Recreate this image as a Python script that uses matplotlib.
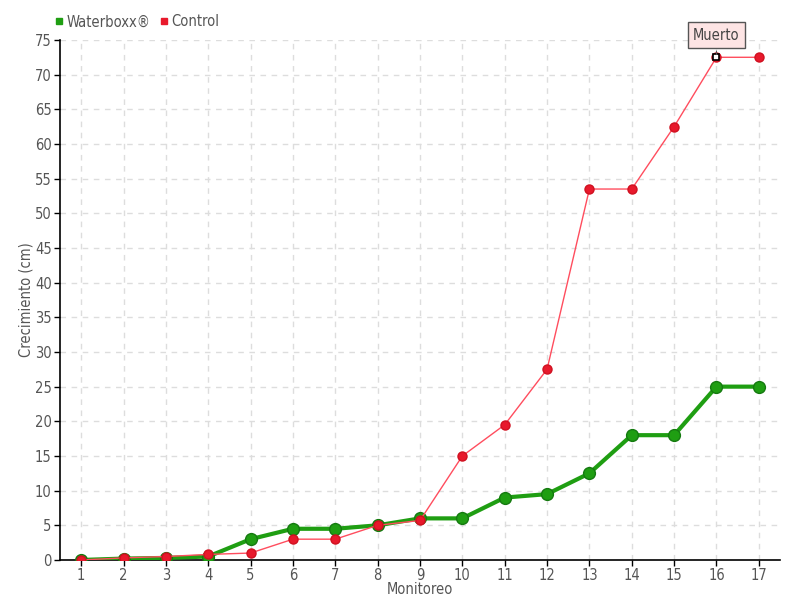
import matplotlib
matplotlib.use('Agg')
import matplotlib.pyplot as plt

# Data
monitoreo = list(range(1, 18))
waterboxx = [0, 0.2, 0.3, 0.5, 3, 4.5, 4.5, 5, 6, 6, 9, 9.5, 12.5, 18, 18, 25, 25]
control = [0, 0.3, 0.5, 0.8, 1, 3, 3, 5, 5.7, 15, 19.5, 27.5, 53.5, 53.5, 62.5, 72.5, 72.5]
y_ticks = list(range(0, 80, 5))

plt.rcParams['font.family'] = ['DejaVu Sans']
plt.rcParams['font.stretch'] = 'condensed'
txt = '#555555'

fig = plt.figure(figsize=(8, 6), dpi=100)
ax = fig.add_axes([0.075, 0.0667, 0.9, 0.8667])

ax.plot(monitoreo, waterboxx, color='#1f9e12', lw=3, marker='o', ms=8.5,
        mfc='#1f9e12', mec='#157a10', mew=1, zorder=3)
ax.plot(monitoreo, control, color='#ff4d5e', lw=1, marker='o', ms=6.5,
        mfc='#e8192c', mec='#d01020', zorder=4)

# "Muerto" tooltip on point 16 of Control
ax.plot(16, control[15], marker='s', ms=5, mfc='white', mec='black', mew=1.2, zorder=5)
ax.annotate('Muerto', xy=(16, control[15]), xytext=(0, 16), textcoords='offset points',
            ha='center', va='center', fontsize=10.5, color='#444444',
            bbox=dict(boxstyle='square,pad=0.35', fc='#fde4e4', ec='#555555', lw=1),
            arrowprops=dict(arrowstyle='-', color='#555555', lw=0.8), zorder=6)

ax.set_xlim(0.5, 17.5)
ax.set_ylim(0, 75)
ax.set_xticks(monitoreo)
ax.set_yticks(y_ticks)
ax.grid(True, color='#dddddd', ls=(0, (4, 4)), lw=1)
ax.set_axisbelow(True)
for s in ['top', 'right']:
    ax.spines[s].set_visible(False)
for s in ['left', 'bottom']:
    ax.spines[s].set_color('black')
    ax.spines[s].set_linewidth(1.2)
ax.tick_params(axis='both', colors='black', labelcolor=txt, labelsize=10.5,
               length=4, width=1, pad=2)

ax.set_xlabel('Monitoreo', color=txt, fontsize=10.5, labelpad=-1)
ax.set_ylabel('Crecimiento (cm)', color=txt, fontsize=10.5, labelpad=1)

# Legend
h1 = plt.Line2D([], [], ls='none', marker='s', ms=5, color='#1f9e12')
h2 = plt.Line2D([], [], ls='none', marker='s', ms=5, color='#e8192c')
leg = fig.legend([h1, h2], ['Waterboxx®', 'Control'], loc='upper left',
                 bbox_to_anchor=(0.052, 0.998), ncol=2, frameon=False,
                 handlelength=0.6, handletextpad=0.2, columnspacing=0.6,
                 fontsize=10.5)
for t in leg.get_texts():
    t.set_color(txt)

fig.savefig('out.png', dpi=100)
